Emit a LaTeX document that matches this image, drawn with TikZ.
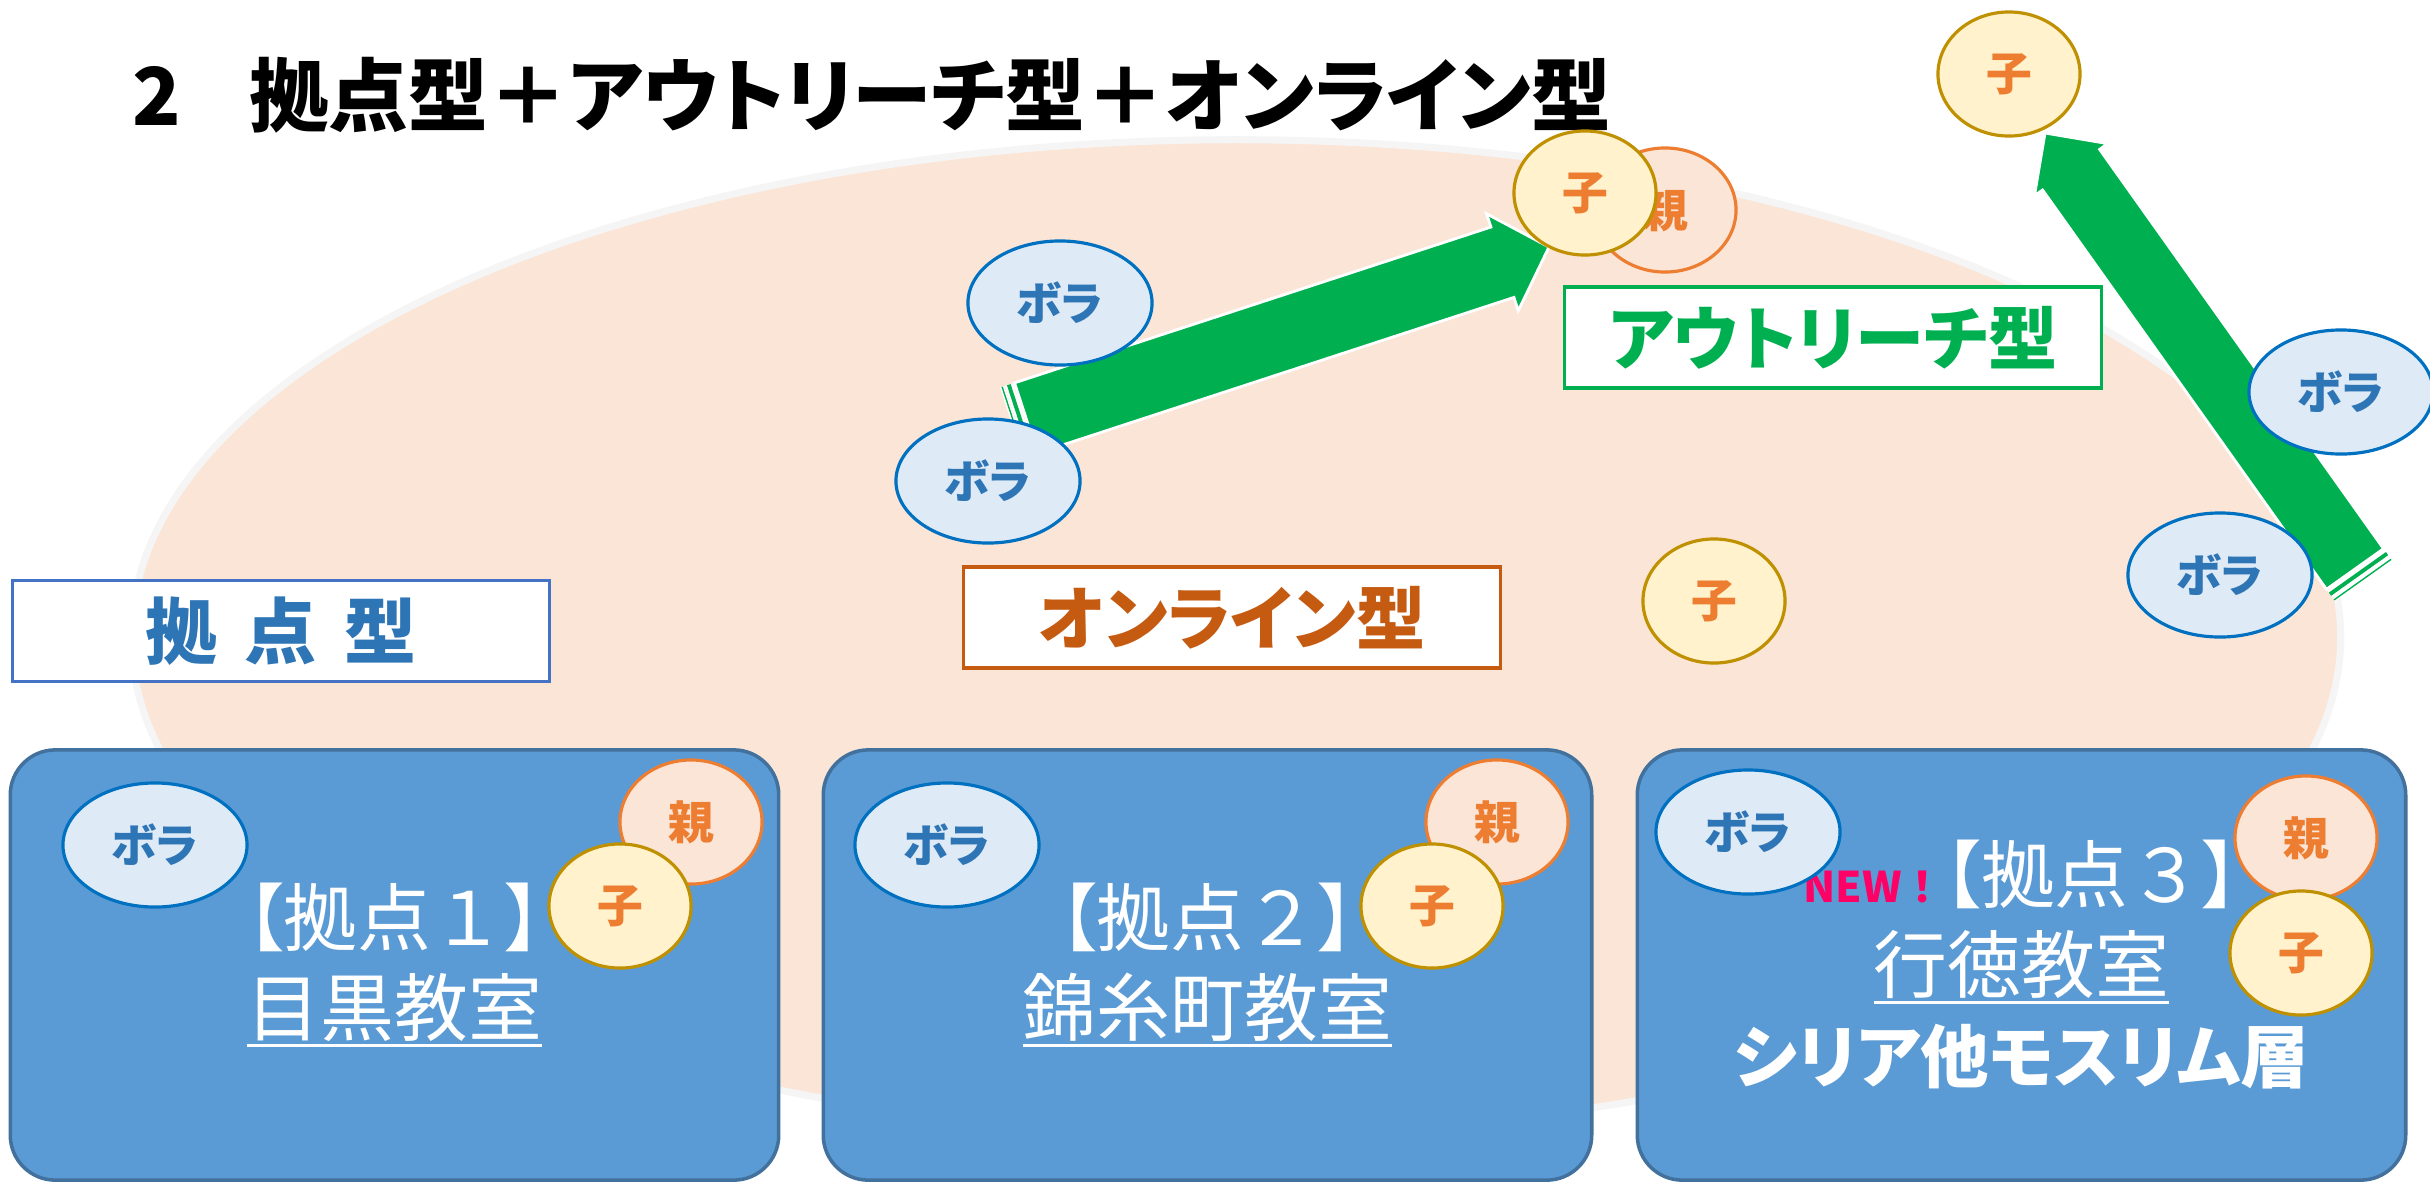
\documentclass[tikz,border=0pt]{standalone}
\usepackage{fontspec}
\setmainfont{Noto Sans CJK JP}[RawFeature={+palt}]
\usetikzlibrary{shapes.geometric,calc}

\definecolor{peach}{HTML}{FBE5D6}
\definecolor{boxfill}{HTML}{5B9BD5}
\definecolor{boxline}{HTML}{41719C}
\definecolor{borafill}{HTML}{DEEBF7}
\definecolor{boraline}{HTML}{0070C0}
\definecolor{boratext}{HTML}{2E75B6}
\definecolor{oyaline}{HTML}{ED7D31}
\definecolor{kofill}{HTML}{FFF2CC}
\definecolor{koline}{HTML}{BF9000}
\definecolor{outgreen}{HTML}{00B050}
\definecolor{onlineorange}{HTML}{C55A11}
\definecolor{kyotenblue}{HTML}{4472C4}
\definecolor{newpink}{HTML}{FF0066}

\newcommand{\px}{0.01cm}
\newcommand{\ulbox}[1]{\setbox0\hbox{#1}\rlap{\rule[-0.15em]{\wd0}{0.8pt}}\box0}
\newcommand{\fw}[1]{{\addfontfeatures{RawFeature={-palt}}#1}}

% tail, tip, half shaft, half head, head length
\newcommand{\fatarrow}[5]{%
  \coordinate (hb) at ($(#2)!#5!(#1)$);
  \coordinate (s1) at ($(#1)!0.06cm!180:(#2)$);
  \coordinate (s2) at ($(#1)!0.13cm!180:(#2)$);
  \draw[white, line width=2.4pt] ($(s1)!#3!90:(#2)$) -- ($(s1)!#3!-90:(#2)$);
  \draw[outgreen, line width=1.1pt] ($(s1)!#3!90:(#2)$) -- ($(s1)!#3!-90:(#2)$);
  \draw[white, line width=1.3pt] ($(s2)!#3!90:(#2)$) -- ($(s2)!#3!-90:(#2)$);
  \draw[outgreen, line width=0.4pt] ($(s2)!#3!90:(#2)$) -- ($(s2)!#3!-90:(#2)$);
  \filldraw[fill=outgreen, draw=white, line width=0.8pt]
    ($(#1)!#3!90:(#2)$) -- ($(hb)!#3!90:(#2)$) -- ($(hb)!#4!90:(#2)$) -- (#2)
    -- ($(hb)!#4!-90:(#2)$) -- ($(hb)!#3!-90:(#2)$) -- ($(#1)!#3!-90:(#2)$) -- cycle;
}

\tikzset{
  bora/.style = {ellipse, draw=boraline, fill=borafill, text=boratext, line width=0.9pt,
    minimum width=1.84cm, minimum height=1.24cm, inner sep=0pt,
    font=\fontsize{13}{15}\selectfont\bfseries},
  oya/.style = {ellipse, draw=oyaline, fill=peach, text=oyaline, line width=0.9pt,
    minimum width=1.42cm, minimum height=1.24cm, inner sep=0pt,
    font=\fontsize{13}{15}\selectfont\bfseries},
  ko/.style = {ellipse, draw=koline, fill=kofill, text=oyaline, line width=0.9pt,
    minimum width=1.42cm, minimum height=1.24cm, inner sep=0pt,
    font=\fontsize{13}{15}\selectfont\bfseries},
  lbl/.style = {rectangle, fill=white, line width=1pt, inner sep=0pt,
    minimum width=5.37cm, minimum height=1.01cm,
    font=\fontsize{19.7}{24}\selectfont\bfseries},
  base/.style = {rectangle, rounded corners=0.45cm, draw=boxline, fill=boxfill, text=white,
    line width=1pt, minimum width=7.68cm, minimum height=4.3cm, align=center,
    font=\fontsize{21}{25.6}\selectfont}
}

\begin{document}
\begin{tikzpicture}[x=\px, y=-\px]
\useasboundingbox (0,0) rectangle (2430,1181);
\fill[white] (0,0) rectangle (2430,1181);

\draw[fill=peach, draw=black!4, line width=2pt] (1236,637) ellipse [x radius=11.04cm, y radius=4.97cm];

\node[anchor=west, font=\fontsize{22.7}{27}\selectfont\bfseries] (title) at (120,95) {2\hspace{0.68cm}拠点型＋アウトリーチ型＋オンライン型};

\node[lbl, draw=kyotenblue, text=boratext, font=\fontsize{20.5}{24}\selectfont\bfseries] (kyoten) at (281,631) {拠\hspace{0.27cm}点\hspace{0.27cm}型};
\node[lbl, draw=onlineorange, text=onlineorange] (online) at (1232,617.5) {オンライン型};
\node[lbl, draw=outgreen, text=outgreen] (outreach) at (1833,337.5) {アウトリーチ型};

\node[base] (m1) at (394.5,965) {【拠点\fw{１}】\\\ulbox{目黒教室}};
\node[base] (m2) at (1207.5,965) {【拠点\fw{２}】\\\ulbox{錦糸町教室}};
\node[base] (m3) at (2021.5,965) {{\color{newpink}\fontsize{12}{14}\selectfont\bfseries NEW\fw{！}}【拠点\fw{３}】\\\ulbox{行徳教室}\\{\fontsize{19.5}{25.6}\selectfont\bfseries シリア他モスリム層}};

\coordinate (a1s) at (1026,418);
\coordinate (a1e) at (1549,247);
\coordinate (a2s) at (2355,569);
\coordinate (a2e) at (2045,133);
\fatarrow{a1s}{a1e}{0.37cm}{0.51cm}{0.49cm}
\fatarrow{a2s}{a2e}{0.35cm}{0.45cm}{0.45cm}

\node[bora] (b1) at (155,845) {ボラ};
\node[oya] (p1) at (691,822) {親};
\node[ko] (c1) at (620,906) {子};
\node[bora] (b2) at (947,845) {ボラ};
\node[oya] (p2) at (1497,822) {親};
\node[ko] (c2) at (1432,906) {子};
\node[bora] (b3) at (1748,832) {ボラ};
\node[oya] (p3) at (2306,838) {親};
\node[ko] (c3) at (2301,953) {子};

\node[bora] (b4) at (1060,303) {ボラ};
\node[bora] (b5) at (988,481) {ボラ};
\node[oya] (p4) at (1665,210) {親};
\node[ko] (c4) at (1585,193) {子};
\node[ko] (c5) at (1714,601) {子};
\node[ko] (c6) at (2009,74) {子};
\node[bora] (b6) at (2341,392) {ボラ};
\node[bora] (b7) at (2220,575) {ボラ};
\end{tikzpicture}
\end{document}
